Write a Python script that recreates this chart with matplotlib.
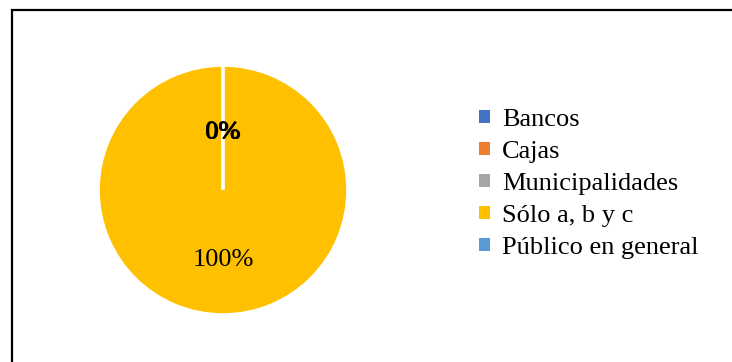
import matplotlib
matplotlib.use("Agg")
import numpy as np
import matplotlib.pyplot as plt
from matplotlib.patches import Patch, Rectangle

plt.rcParams['font.family'] = ['Liberation Serif', 'DejaVu Serif']

categories = ["Bancos", "Cajas", "Municipalidades", "Sólo a, b y c", "Público en general"]
values = [0, 0, 0, 100, 0]
colors = ["#4472C4", "#ED7D31", "#A5A5A5", "#FFC000", "#5B9BD5"]

W, H = 732, 362
fig = plt.figure(figsize=(W / 100, H / 100), dpi=100)

# pie centred at (223, 190) px, radius 125 px
cx, cy, r = 223, 190, 125
ax = fig.add_axes([(cx - r) / W, (H - cy - r) / H, 2 * r / W, 2 * r / H])
wedges, texts, pcts = ax.pie(values, colors=colors, startangle=90, counterclock=False,
                             autopct=lambda p: "%d%%" % round(p), pctdistance=0.5,
                             wedgeprops=dict(edgecolor="white", linewidth=2.6),
                             textprops=dict(fontsize=19, color="black"))
# data labels: small slices sit a bit closer to the centre
for w, t in zip(wedges, pcts):
    ang = np.deg2rad((w.theta1 + w.theta2) / 2)
    d = 0.48 if w.theta2 - w.theta1 < 1 else 0.54
    t.set_position((d * np.cos(ang), d * np.sin(ang) - 0.02))
ax.set_xlim(-1, 1)
ax.set_ylim(-1, 1)
ax.set_aspect("equal")

handles = [Patch(facecolor=c, edgecolor="none") for c in colors]
fig.legend(handles, categories, loc="center left", bbox_to_anchor=(479 / W, 1 - 184 / H),
           frameon=False, fontsize=19, handlelength=0.42, handleheight=0.42,
           handletextpad=0.45, labelspacing=0.38, borderpad=0, borderaxespad=0)

# outer chart border, open on right and bottom edges
fig.add_artist(Rectangle((12 / W, -0.1), 1.0, 1 - 10 / H + 0.1, transform=fig.transFigure,
                         fill=False, edgecolor="black", linewidth=1.6))

fig.savefig("out.png", dpi=100)
